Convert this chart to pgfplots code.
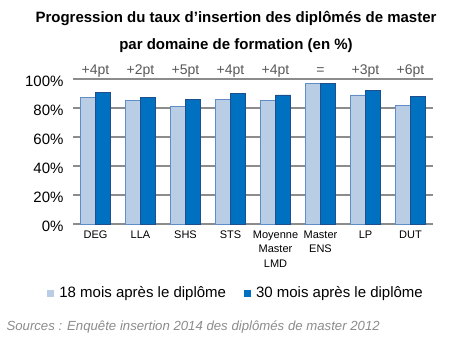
\documentclass[border=0pt]{standalone}
\usepackage{pgfplots}
\pgfplotsset{compat=1.18}
\usepackage{fontspec}
\setmainfont{Liberation Sans}
\definecolor{lightbar}{HTML}{B9CDE5}
\definecolor{lightedge}{HTML}{5F8DC8}
\definecolor{darkbar}{HTML}{0070C0}
\definecolor{darkedge}{HTML}{1F4E8C}
\definecolor{gridgray}{HTML}{8C8C8C}
\definecolor{annot}{HTML}{595959}
\tikzset{annotstyle/.style={font=\fontsize{14bp}{15bp}\selectfont, text=annot, anchor=base}}
\begin{document}
\begin{tikzpicture}[x=1bp,y=1bp]
\path (0,0) rectangle (449,348);
\begin{axis}[
  at={(73bp,124bp)}, anchor=south west,
  scale only axis, width=360bp, height=145bp,
  ymin=0, ymax=100, xmin=-0.5, xmax=7.5,
  ybar=0pt, bar width=15bp,
  axis line style={draw=none},
  ytick={0,20,40,60,80,100},
  yticklabels={0\%,20\%,40\%,60\%,80\%,100\%},
  yticklabel style={font=\fontsize{15bp}{16bp}\selectfont, anchor=east, xshift=-6bp, yshift=-2bp},
  ymajorgrids, major grid style={gridgray, line width=1.4bp},
  xtick=data,
  xticklabels={DEG,LLA,SHS,STS,{Moyenne\\Master\\LMD},{Master\\ENS},LP,DUT},
  xticklabel style={font=\fontsize{11bp}{14.5bp}\selectfont, align=center, anchor=north, yshift=-3bp},
  major tick length=0pt,
  clip=false,
  legend columns=2,
  legend style={at={(0.453,-0.476)}, anchor=center, draw=none, fill=none,
    font=\fontsize{15bp}{17bp}\selectfont,
    /tikz/every even column/.append style={column sep=16bp}},
  legend image code/.code={\fill[#1, draw=none] (0bp,-3.5bp) rectangle (6.5bp,3bp); \path[draw=none, fill=none] (0bp,0bp) -- (10bp,0bp);},
]
\addplot[fill=lightbar, draw=lightedge, line width=0.8bp] coordinates {(0,87) (1,85) (2,81) (3,86) (4,85) (5,97) (6,89) (7,82)};
\addplot[fill=darkbar, draw=darkedge, line width=0.8bp] coordinates {(0,91) (1,87) (2,86) (3,90) (4,89) (5,97) (6,92) (7,88)};
\legend{18 mois après le diplôme, 30 mois après le diplôme}
\node[annotstyle] at (axis cs:0,103) {+4pt};
\node[annotstyle] at (axis cs:1,103) {+2pt};
\node[annotstyle] at (axis cs:2,103) {+5pt};
\node[annotstyle] at (axis cs:3,103) {+4pt};
\node[annotstyle] at (axis cs:4,103) {+4pt};
\node[annotstyle] at (axis cs:5,103) {=};
\node[annotstyle] at (axis cs:6,103) {+3pt};
\node[annotstyle] at (axis cs:7,103) {+6pt};
\end{axis}
\node[font=\fontsize{15bp}{17bp}\selectfont\bfseries] at (236,330) {Progression du taux d’insertion des diplômés de master};
\node[font=\fontsize{15bp}{17bp}\selectfont\bfseries] at (236,302) {par domaine de formation (en \%)};
\node[font=\fontsize{13.2bp}{15bp}\selectfont\itshape, text=gridgray, anchor=west] at (3,21) {Sources : Enquête insertion 2014 des diplômés de master 2012};
\end{tikzpicture}
\end{document}
